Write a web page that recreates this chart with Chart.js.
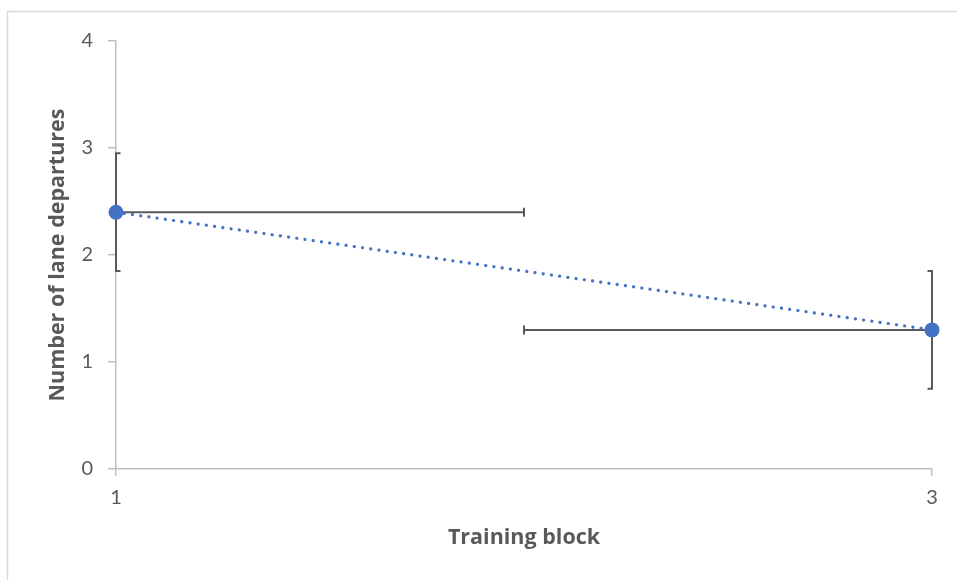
<!DOCTYPE html>
<html>
<head>
<meta charset="utf-8">
<script src="https://cdn.jsdelivr.net/npm/chart.js@4.4.0/dist/chart.umd.min.js"></script>
<style>
  html, body { margin: 0; padding: 0; background: #ffffff; }
  #wrap { width: 957px; height: 580px; position: relative; }
</style>
</head>
<body>
<div id="wrap"><canvas id="blockChart" width="957" height="580"></canvas></div>
<script>
// Data
var trainingBlocks = [1, 3];
var laneDepartures = [2.4, 1.3];
var yErrorAmounts = [0.55, 0.55];
var xErrorAmounts = [1, 1];
var xTickValues = [1, 3];
var yTickValues = [0, 1, 2, 3, 4];

var xTitle = 'Training block';
var yTitle = 'Number of lane departures';

var points = trainingBlocks.map(function (b, i) {
    return { x: b, y: laneDepartures[i] };
});

// Outer frame of the chart object (only top and left edges are inside the shot)
var framePlugin = {
    id: 'frame',
    beforeDraw: function (chart) {
        var ctx = chart.ctx;
        ctx.save();
        ctx.fillStyle = '#ffffff';
        ctx.fillRect(0, 0, chart.width, chart.height);
        ctx.strokeStyle = '#d9d9d9';
        ctx.lineWidth = 1.5;
        ctx.strokeRect(7.5, 11.5, 2000, 2000);
        ctx.restore();
    }
};

// Error bars in x and y, clipped to the plot area
var errorBarPlugin = {
    id: 'errorBars',
    beforeDatasetsDraw: function (chart) {
        var ctx = chart.ctx;
        var xs = chart.scales.x;
        var ys = chart.scales.y;
        var area = chart.chartArea;
        var cap = 4.5;
        ctx.save();
        ctx.beginPath();
        ctx.rect(area.left - 1, area.top - 1, area.right - area.left + 2, area.bottom - area.top + 2);
        ctx.clip();
        ctx.strokeStyle = '#595959';
        ctx.lineWidth = 2;
        points.forEach(function (p, i) {
            var px = xs.getPixelForValue(p.x);
            var py = ys.getPixelForValue(p.y);
            var yTop = ys.getPixelForValue(p.y + yErrorAmounts[i]);
            var yBot = ys.getPixelForValue(p.y - yErrorAmounts[i]);
            var xLeft = xs.getPixelForValue(p.x - xErrorAmounts[i]);
            var xRight = xs.getPixelForValue(p.x + xErrorAmounts[i]);
            ctx.beginPath();
            ctx.moveTo(px, yTop); ctx.lineTo(px, yBot);
            ctx.moveTo(px - cap, yTop); ctx.lineTo(px + cap, yTop);
            ctx.moveTo(px - cap, yBot); ctx.lineTo(px + cap, yBot);
            ctx.moveTo(xLeft, py); ctx.lineTo(xRight, py);
            ctx.moveTo(xLeft, py - cap); ctx.lineTo(xLeft, py + cap);
            ctx.moveTo(xRight, py - cap); ctx.lineTo(xRight, py + cap);
            ctx.stroke();
        });
        ctx.restore();
    }
};

var ctx = document.getElementById('blockChart').getContext('2d');

var blockChart = new Chart(ctx, {
    type: 'scatter',
    data: {
        datasets: [{
            label: 'Lane departures',
            data: points,
            showLine: true,
            borderColor: '#4472c4',
            borderWidth: 3.2,
            borderDash: [0.1, 8.2],
            borderCapStyle: 'round',
            pointRadius: 7.5,
            pointHoverRadius: 7.5,
            pointBackgroundColor: '#4472c4',
            pointBorderColor: '#4472c4',
            pointBorderWidth: 0,
            clip: 10
        }]
    },
    options: {
        responsive: false,
        animation: false,
        devicePixelRatio: 1,
        layout: { padding: { left: 0, top: 41, right: 25, bottom: 0 } },
        plugins: {
            legend: { display: false },
            tooltip: { enabled: false }
        },
        scales: {
            x: {
                type: 'linear',
                min: 1,
                max: 3,
                afterFit: function (scale) { scale.height = 111; },
                afterBuildTicks: function (scale) {
                    scale.ticks = xTickValues.map(function (v) { return { value: v }; });
                },
                ticks: {
                    color: '#595959',
                    padding: 10,
                    font: { family: 'Lato', size: 20 }
                },
                grid: {
                    display: true,
                    drawOnChartArea: false,
                    drawTicks: true,
                    tickLength: 7,
                    color: '#bfbfbf',
                    lineWidth: 1.5
                },
                border: { display: true, color: '#bfbfbf', width: 1.5 },
                title: {
                    display: true,
                    text: xTitle,
                    color: '#595959',
                    padding: { top: 0, bottom: 29 },
                    font: { family: 'Open Sans', size: 21.5, weight: 'bold' }
                }
            },
            y: {
                min: 0,
                max: 4,
                afterFit: function (scale) { scale.width = 116; },
                afterBuildTicks: function (scale) {
                    scale.ticks = yTickValues.map(function (v) { return { value: v }; });
                },
                ticks: {
                    color: '#595959',
                    padding: 15,
                    font: { family: 'Lato', size: 20 }
                },
                grid: {
                    display: true,
                    drawOnChartArea: false,
                    drawTicks: true,
                    tickLength: 8,
                    color: '#bfbfbf',
                    lineWidth: 1.5
                },
                border: { display: true, color: '#bfbfbf', width: 1.5 },
                title: {
                    display: true,
                    text: yTitle,
                    color: '#595959',
                    padding: { top: 45, bottom: 0 },
                    font: { family: 'Open Sans', size: 21.5, weight: 'bold' }
                }
            }
        }
    },
    plugins: [framePlugin, errorBarPlugin]
});
</script>
</body>
</html>
